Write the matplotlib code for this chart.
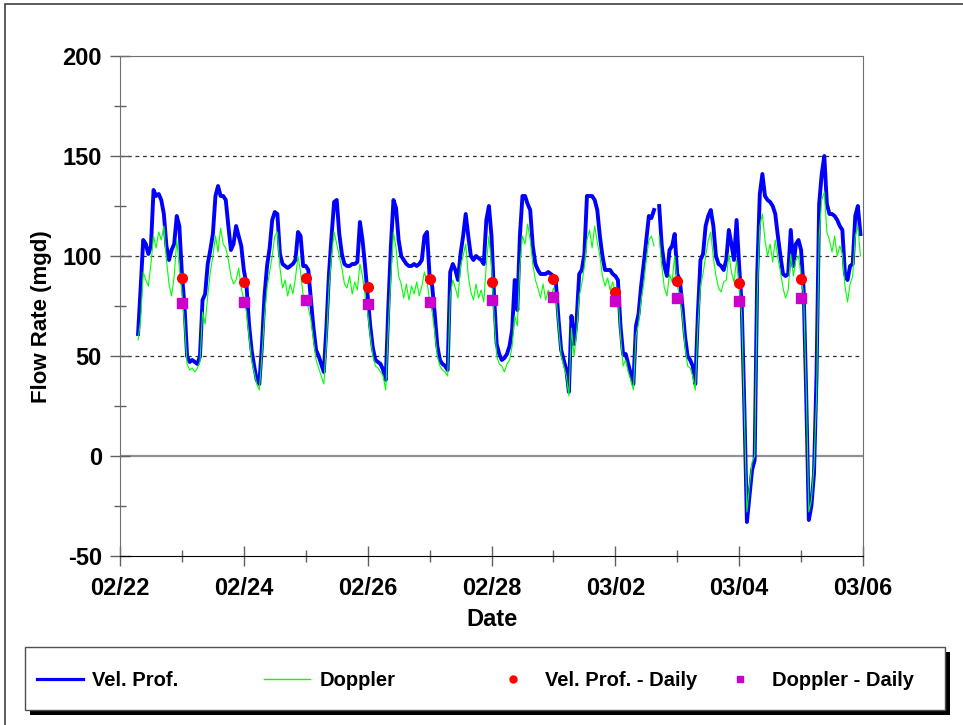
import numpy as np
import matplotlib
matplotlib.use("Agg")
import matplotlib.pyplot as plt
import matplotlib.dates as mdates
from matplotlib.patches import Rectangle
from matplotlib.lines import Line2D

plt.rcParams["font.family"] = ["Liberation Sans", "DejaVu Sans"]
plt.rcParams["font.weight"] = "bold"
plt.rcParams["axes.unicode_minus"] = False

nan = np.nan

# hourly readings, first value at 02/22 07:00
start_time = np.datetime64("2005-02-22T07:00")

vel_prof = [
    61, 84, 108, 106, 101, 105, 133, 130, 131, 128, 121, 105, 98, 103, 106, 120, 115,
    91, 75, 50, 47, 48, 47, 46, 50, 78, 81, 96, 103, 111, 130, 135, 130, 130, 128, 115, 103, 106, 115, 110, 105,
    93, 86, 66, 53, 45, 38, 36, 55, 80, 95, 104, 118, 122, 121, 101, 96, 95, 94, 95, 96, 98, 112, 110, 95,
    95, 93, 78, 64, 53, 50, 46, 42, 64, 91, 110, 127, 128, 111, 101, 96, 95, 95, 96, 96, 97, 117, 108, 95,
    80, 65, 54, 48, 47, 46, 43, 38, 74, 105, 128, 124, 108, 100, 98, 96, 95, 95, 96, 95, 96, 98, 110, 112,
    90, 85, 71, 55, 48, 46, 45, 43, 92, 96, 93, 88, 101, 110, 121, 110, 100, 98, 100, 99, 98, 96, 118, 125,
    110, 80, 56, 51, 48, 49, 51, 55, 63, 88, 73, 110, 130, 130, 126, 123, 105, 96, 93, 91, 91, 91, 92, 91,
    90, 86, 68, 53, 48, 43, 32, 70, 56, 68, 91, 93, 101, 130, 130, 130, 128, 123, 110, 100, 93, 93, 93, 91,
    90, 88, 65, 51, 51, 46, 41, 36, 65, 71, 85, 96, 108, 120, 119, 123, nan, 125, 105, 95, 90, 103, 105, 111,
    91, 88, 75, 60, 50, 48, 45, 36, 71, 98, 101, 115, 120, 123, 115, 100, 96, 95, 93, 98, 113, 106, 98, 118,
    95, 75, 25, -33, -20, -7, -2, 91, 131, 141, 130, 128, 127, 125, 121, 110, 100, 91, 90, 91, 113, 95, 106, 108,
    103, 83, 30, -32, -25, -9, 41, 126, 141, 150, 126, 121, 121, 120, 118, 115, 113, 91, 88, 95, 96, 120, 125, 111,
]

doppler = [
    58, 68, 92, 88, 85, 96, 110, 104, 112, 108, 115, 98, 86, 80, 90, 108, 94,
    82, 66, 46, 43, 44, 42, 44, 47, 72, 66, 80, 92, 100, 110, 102, 114, 106, 104, 98, 90, 86, 88, 94, 84,
    78, 72, 60, 48, 42, 36, 33, 50, 70, 84, 92, 100, 110, 112, 94, 84, 88, 80, 86, 81, 89, 100, 92, 80,
    78, 74, 68, 58, 48, 44, 40, 36, 56, 84, 100, 112, 106, 100, 94, 86, 84, 90, 81, 87, 83, 96, 90, 80,
    72, 60, 50, 45, 44, 42, 40, 33, 64, 90, 112, 104, 90, 86, 79, 86, 78, 85, 81, 87, 80, 85, 92, 87,
    78, 72, 62, 50, 45, 43, 42, 40, 80, 88, 84, 79, 95, 100, 106, 90, 82, 78, 86, 79, 83, 77, 96, 110,
    95, 70, 50, 46, 45, 42, 46, 48, 55, 70, 65, 95, 110, 106, 116, 108, 96, 88, 84, 79, 86, 78, 83, 79,
    84, 80, 64, 50, 45, 40, 30, 64, 50, 62, 80, 86, 95, 108, 113, 104, 115, 107, 100, 90, 85, 89, 83, 87,
    82, 82, 60, 45, 48, 42, 38, 33, 60, 66, 78, 86, 98, 108, 110, 105, nan, 110, 95, 84, 80, 91, 87, 100,
    85, 80, 70, 55, 45, 44, 40, 33, 65, 85, 91, 100, 108, 112, 99, 90, 84, 82, 87, 88, 101, 92, 87, 98,
    85, 70, 20, -28, -15, -3, 0, 80, 115, 121, 108, 100, 106, 97, 108, 99, 92, 84, 79, 83, 101, 90, 98, 100,
    90, 80, 32, -28, -22, -5, 30, 110, 128, 132, 112, 108, 102, 110, 100, 105, 101, 85, 77, 86, 90, 110, 115, 100,
]

daily_dates = ["2005-02-23", "2005-02-24", "2005-02-25", "2005-02-26", "2005-02-27", "2005-02-28",
               "2005-03-01", "2005-03-02", "2005-03-03", "2005-03-04", "2005-03-05"]
vel_prof_daily = [88.8, 87.2, 88.8, 84.7, 88.5, 87.2, 88.5, 82.2, 87.7, 86.3, 88.5]
doppler_daily = [76.7, 77.2, 78.0, 76.0, 77.2, 78.0, 79.7, 77.7, 79.2, 77.7, 78.8]

tick_dates = ["2005-02-22", "2005-02-24", "2005-02-26", "2005-02-28", "2005-03-02", "2005-03-04", "2005-03-06"]

W, H = 963, 725
fig = plt.figure(figsize=(W / 100, H / 100), dpi=100)
ax = fig.add_axes([120 / W, (H - 556) / H, 743 / W, 500 / H])

times = start_time + np.arange(len(vel_prof)).astype("timedelta64[h]")
times = times.astype("datetime64[ms]").astype(object)
dd = np.array(daily_dates, dtype="datetime64[D]").astype(object)

ax.axhline(0, color="#909090", lw=1.6, zorder=1)
for yv in [50, 100, 150]:
    ax.axhline(yv, color="#303030", lw=0.9, ls=(0, (3, 3)), zorder=1)

ax.plot(times, vel_prof, color="#0000FF", lw=2.8, zorder=3)
ax.plot(times, doppler, color="#00FF00", lw=0.8, zorder=4)
ax.plot(dd, vel_prof_daily, ls="none", marker="o", color="#FF0000", ms=7, mec="#FF0000", zorder=5)
ax.plot(dd, doppler_daily, ls="none", marker="s", color="#CC00CC", ms=6.5, mec="#CC00CC", zorder=5)

ax.set_ylim(-50, 200)
ax.set_yticks([-50, 0, 50, 100, 150, 200])
ax.set_yticks(np.arange(-25, 200, 50), minor=True)
ax.set_xlim(np.datetime64("2005-02-22").astype(object), np.datetime64("2005-03-06").astype(object))
ax.set_xticks(np.array(tick_dates, dtype="datetime64[D]").astype(object))
ax.xaxis.set_minor_locator(mdates.DayLocator())
ax.xaxis.set_major_formatter(mdates.DateFormatter("%m/%d"))

ax.tick_params(axis="both", which="major", direction="inout", length=14, width=1,
               color="#606060", labelsize=17, pad=6)
ax.tick_params(axis="both", which="minor", direction="inout", length=8, width=1, color="#606060")
ax.tick_params(axis="x", which="major", pad=8)
for lab in ax.get_xticklabels() + ax.get_yticklabels():
    lab.set_fontweight("bold")

for side in ["left", "top", "right"]:
    ax.spines[side].set_color("#707070")
ax.spines["bottom"].set_color("#000000")

ax.set_ylabel("Flow Rate (mgd)", fontsize=16, fontweight="bold")
ax.yaxis.label.set_verticalalignment("center")
ax.yaxis.set_label_coords(-0.105, 0.478)
ax.set_xlabel("Date", fontsize=17, fontweight="bold")
ax.xaxis.label.set_verticalalignment("center")
ax.xaxis.set_label_coords(0.5, -0.128)

# outer frame of the original page
fig.add_artist(Rectangle((5 / W, -0.1), 1.2, (H - 4) / H + 0.1, transform=fig.transFigure,
                         fill=False, edgecolor="#404040", lw=1.2))

# legend box with black drop shadow
fig.add_artist(Rectangle((30 / W, (H - 715) / H), 920 / W, 63 / H, transform=fig.transFigure,
                         facecolor="black", edgecolor="black", lw=0))
fig.add_artist(Rectangle((25 / W, (H - 710) / H), 920 / W, 63 / H, transform=fig.transFigure,
                         facecolor="white", edgecolor="#505050", lw=1))

entries = [
    (Line2D([], [], color="#0000FF", lw=2.3), "Vel. Prof.", 37),
    (Line2D([], [], color="#00FF00", lw=1.0), "Doppler", 264),
    (Line2D([], [], ls="none", marker="o", color="#FF0000", ms=5), "Vel. Prof. - Daily", 490),
    (Line2D([], [], ls="none", marker="s", color="#CC00CC", ms=5), "Doppler - Daily", 717),
]
for handle, label, xpix in entries:
    fig.legend(handles=[handle], labels=[label], loc="center left",
               bbox_to_anchor=(xpix / W, (H - 681) / H), frameon=False,
               borderpad=0, borderaxespad=0, handlelength=2.3, handletextpad=0.45,
               prop={"weight": "bold", "size": 14.5})

fig.savefig("out.png", dpi=100)
